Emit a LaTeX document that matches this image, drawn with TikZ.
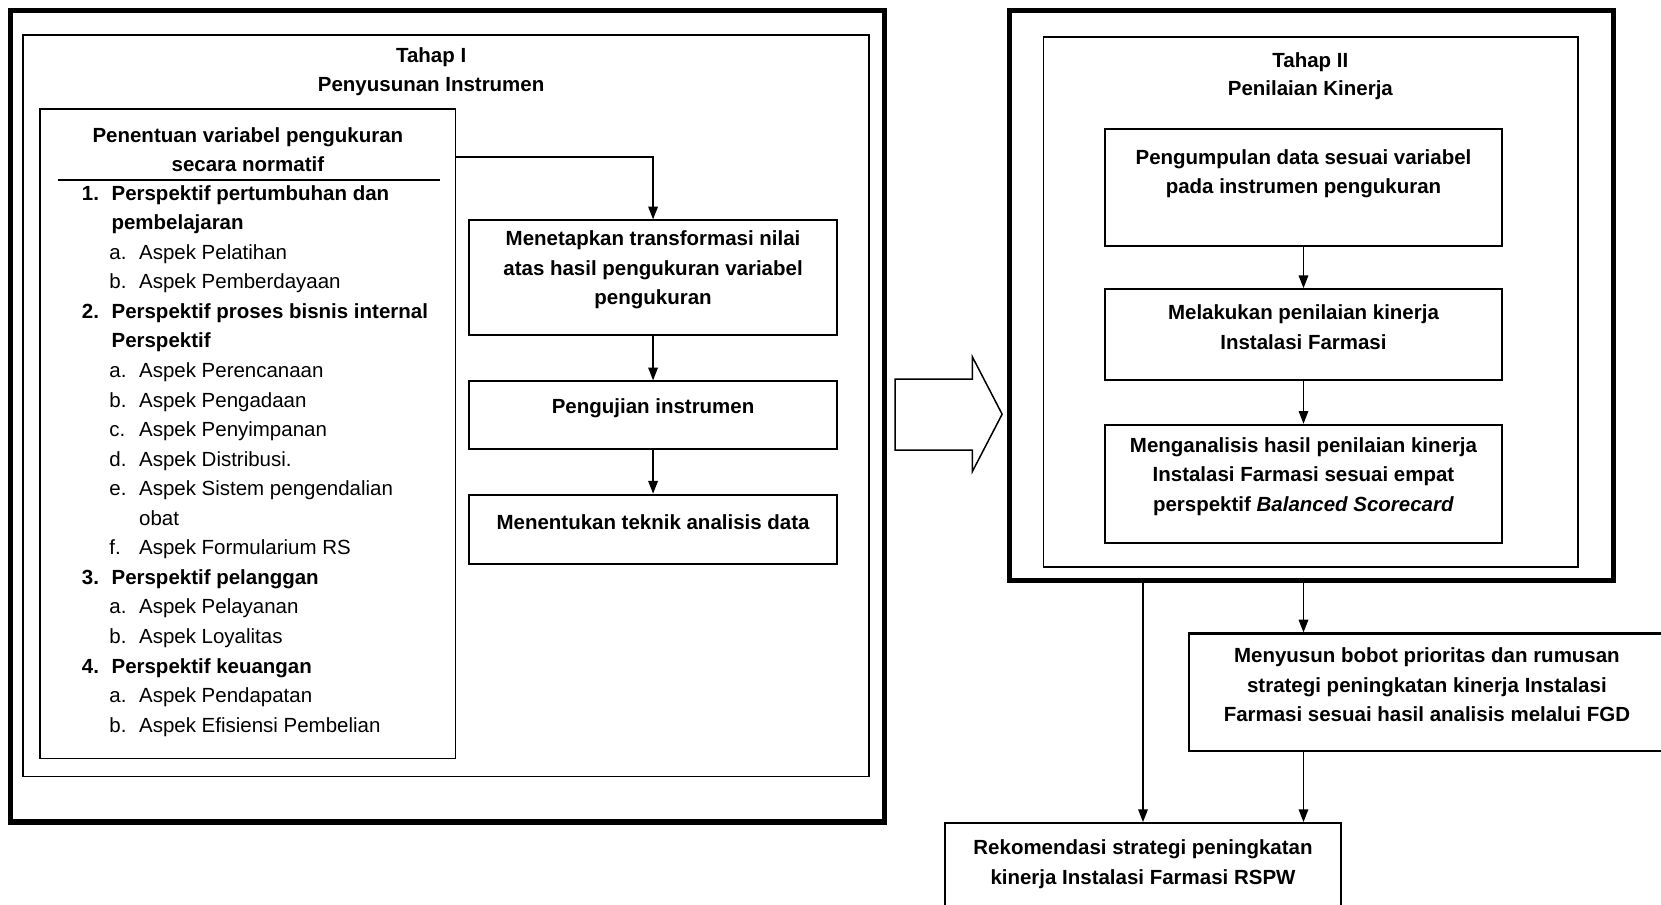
\documentclass[tikz,border=0pt]{standalone}
\usepackage{fontspec}
\setmainfont{Liberation Sans}
\usetikzlibrary{arrows.meta,fit}
\tikzset{
  frame/.style={draw=black, line width=2.8pt, inner sep=0pt},
  panel/.style={draw=black, line width=1pt, inner sep=0pt},
  stepbox/.style={
    draw=black, line width=1.1pt, inner sep=0pt, align=center,
    font=\fontsize{11}{15.9}\selectfont\bfseries
  },
  heading/.style={align=center, font=\fontsize{11}{15.4}\selectfont\bfseries},
  listline/.style={anchor=base west, inner sep=0pt, font=\fontsize{11}{15.9}\selectfont},
  flow/.style={-{Triangle[length=2.4mm,width=1.8mm]}, line width=0.8pt, draw=black}
}

\begin{document}
\begin{tikzpicture}[x=0.2mm,y=-0.2mm]
  \useasboundingbox (0,0) rectangle (1568,854);
  % Tahap I
  \node[frame,fit={(10,10) (835,776)}] (stageone) {};
  \node[panel,fit={(22,33) (820,733)}] (stageonein) {};
  \node[heading] (titleone) at (407,68) {Tahap I\\Penyusunan Instrumen};
  \node[panel,fit={(38,103) (430,716)}] (varlist) {};
  \node[heading] (varhead) at (234,141) {Penentuan variabel pengukuran\\secara normatif};
  \coordinate (ruleL) at (55,170);
  \coordinate (ruleR) at (415,170);
  \draw[line width=0.8pt] (ruleL) -- (ruleR);
  \foreach \lx/\lab/\txt/\fnt [count=\i from 0] in {
    77/1./Perspektif pertumbuhan dan/\bfseries,
    77//pembelajaran/\bfseries,
    103/a./Aspek Pelatihan/\mdseries,
    103/b./Aspek Pemberdayaan/\mdseries,
    77/2./Perspektif proses bisnis internal/\bfseries,
    77//Perspektif/\bfseries,
    103/a./Aspek Perencanaan/\mdseries,
    103/b./Aspek Pengadaan/\mdseries,
    103/c./Aspek Penyimpanan/\mdseries,
    103/d./Aspek Distribusi./\mdseries,
    103/e./Aspek Sistem pengendalian/\mdseries,
    103//obat/\mdseries,
    103/f./Aspek Formularium RS/\mdseries,
    77/3./Perspektif pelanggan/\bfseries,
    103/a./Aspek Pelayanan/\mdseries,
    103/b./Aspek Loyalitas/\mdseries,
    77/4./Perspektif keuangan/\bfseries,
    103/a./Aspek Pendapatan/\mdseries,
    103/b./Aspek Efisiensi Pembelian/\mdseries}
  {
    \node[listline] (num\i) at (\lx,189+27.9*\i) {\fnt\lab};
    \node[listline] (item\i) at (\lx+28,189+27.9*\i) {\fnt\txt};
  }
  \node[stepbox,fit={(443,208) (790,316)}] (settransform)
    {Menetapkan transformasi nilai\\atas hasil pengukuran variabel\\pengukuran};
  \node[stepbox,fit={(443,360) (790,424)}] (testinst) {Pengujian instrumen};
  \node[stepbox,fit={(443,467) (790,532)}] (analysistech) {Menentukan teknik analisis data};
  \coordinate (varout) at (430,148);
  \draw[flow] (varout) -| (settransform.north);
  \draw[flow] (settransform) -- (testinst);
  \draw[flow] (testinst) -- (analysistech);
  % hollow arrow between the stages
  \draw[line width=0.8pt, fill=white] (845,358) -- (918,358) -- (918,337) -- (946,391)
    -- (918,445) -- (918,425) -- (845,425) -- cycle;
  % Tahap II
  \node[frame,fit={(953,10) (1523,548)}] (stagetwo) {};
  \node[panel,fit={(985,35) (1490,535)}] (stagetwoin) {};
  \node[heading] (titletwo) at (1237,72) {Tahap II\\Penilaian Kinerja};
  \node[stepbox,fit={(1043,122) (1418,232)}] (collect)
    {Pengumpulan data sesuai variabel\\pada instrumen pengukuran\\[-2.4mm]\mbox{}};
  \node[stepbox,fit={(1043,273) (1418,359)}] (assess)
    {Melakukan penilaian kinerja\\Instalasi Farmasi};
  \node[stepbox,fit={(1043,401) (1418,513)}] (analyse)
    {Menganalisis hasil penilaian kinerja\\Instalasi Farmasi sesuai empat\\perspektif \textit{Balanced Scorecard}};
  \draw[flow] (collect) -- (assess);
  \draw[flow] (assess) -- (analyse);
  % after the stages
  \node[stepbox,fit={(1122,598) (1572,709)}] (strategy)
    {Menyusun bobot prioritas dan rumusan\\strategi peningkatan kinerja Instalasi\\Farmasi sesuai hasil analisis melalui FGD};
  \node[stepbox,fit={(892,777) (1266,881)}] (recommend)
    {Rekomendasi strategi peningkatan\\kinerja Instalasi Farmasi RSPW\\[-2.4mm]\mbox{}};
  \draw[flow] (stagetwo.south -| recommend.north) -- (recommend.north);
  \draw[flow] (stagetwo.south -| analyse.south) -- (strategy.north -| analyse.south);
  \draw[flow] (strategy.south -| analyse.south) -- (recommend.north -| analyse.south);
\end{tikzpicture}
\end{document}
